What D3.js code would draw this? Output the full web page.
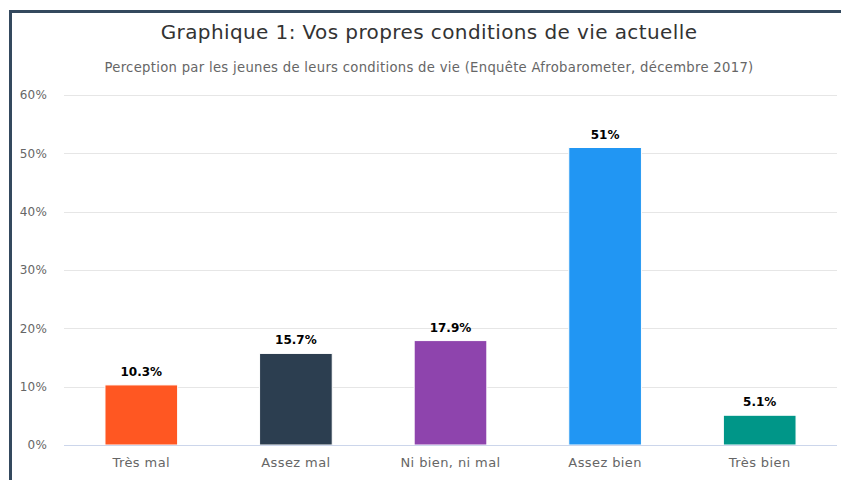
<!DOCTYPE html>
<html>
<head>
<meta charset="utf-8">
<script src="https://cdn.jsdelivr.net/npm/d3@7"></script>
<style>
  body { margin: 0; background: #fff; }
  svg { display: block; font-family: "DejaVu Sans", sans-serif; }
</style>
</head>
<body>
<svg class="chart" width="841" height="480"></svg>
<script>
var categories = ["Très mal", "Assez mal", "Ni bien, ni mal", "Assez bien", "Très bien"];
var values = [10.3, 15.7, 17.9, 51, 5.1];
var colors = ["#ff5722", "#2c3e50", "#8e44ad", "#2196f3", "#009688"];
var yTicks = [0, 10, 20, 30, 40, 50, 60];

var plot = { left: 64, right: 837, top: 95, bottom: 445 };

var svg = d3.select("svg.chart");

// cadre
svg.append("path")
   .attr("d", "M10.5,480 L10.5,11.5 L841,11.5")
   .attr("fill", "none")
   .attr("stroke", "#34495e")
   .attr("stroke-width", 3);

svg.append("text")
   .attr("x", 429).attr("y", 39)
   .attr("text-anchor", "middle")
   .attr("font-size", 20)
   .attr("letter-spacing", 0.4)
   .attr("fill", "#333")
   .text("Graphique 1: Vos propres conditions de vie actuelle");

svg.append("text")
   .attr("x", 429).attr("y", 72)
   .attr("text-anchor", "middle")
   .attr("font-size", 13.2)
   .attr("letter-spacing", 0.3)
   .attr("fill", "#666")
   .text("Perception par les jeunes de leurs conditions de vie (Enquête Afrobarometer, décembre 2017)");

var x = d3.scaleBand()
          .domain(categories)
          .range([plot.left, plot.right])
          .paddingInner(0.53)
          .paddingOuter(0.265);

var y = d3.scaleLinear()
          .domain([0, 60])
          .range([plot.bottom, plot.top]);

// grille
svg.append("g")
   .selectAll("line")
   .data(yTicks.slice(1))
   .enter()
   .append("line")
   .attr("x1", plot.left).attr("x2", plot.right)
   .attr("y1", function (d) { return Math.round(y(d)) + 0.5; })
   .attr("y2", function (d) { return Math.round(y(d)) + 0.5; })
   .attr("stroke", "#e6e6e6");

var yAxis = svg.append("g")
   .attr("transform", "translate(" + (plot.left - 17) + ",0)")
   .call(d3.axisLeft(y).tickValues(yTicks).tickSize(0).tickFormat(function (d) { return d + "%"; }));
yAxis.select(".domain").remove();
yAxis.selectAll("text")
     .attr("font-family", "DejaVu Sans, sans-serif")
     .attr("font-size", 12)
     .attr("letter-spacing", 0.2)
     .attr("fill", "#666")
     .attr("x", 0);

// barres
svg.append("g")
   .selectAll("rect")
   .data(values)
   .enter()
   .append("rect")
   .attr("x", function (d, i) { return x(categories[i]); })
   .attr("y", function (d) { return y(d); })
   .attr("width", x.bandwidth())
   .attr("height", function (d) { return y(0) - y(d); })
   .attr("fill", function (d, i) { return colors[i]; })
   .attr("stroke", "#fff")
   .attr("stroke-width", 1);

// ligne de base
svg.append("line")
   .attr("x1", plot.left).attr("x2", plot.right)
   .attr("y1", plot.bottom + 0.5).attr("y2", plot.bottom + 0.5)
   .attr("stroke", "#ccd6eb");

// étiquettes
svg.append("g")
   .selectAll("text")
   .data(values)
   .enter()
   .append("text")
   .attr("x", function (d, i) { return x(categories[i]) + x.bandwidth() / 2; })
   .attr("y", function (d) { return y(d) - 9; })
   .attr("text-anchor", "middle")
   .attr("font-size", 12)
   .attr("font-weight", "bold")
   .attr("fill", "#000")
   .text(function (d) { return d + "%"; });

var xAxis = svg.append("g")
   .attr("transform", "translate(0," + plot.bottom + ")")
   .call(d3.axisBottom(x).tickSize(0).tickPadding(13));
xAxis.select(".domain").remove();
xAxis.selectAll("text")
     .attr("font-family", "DejaVu Sans, sans-serif")
     .attr("font-size", 13)
     .attr("letter-spacing", 0.4)
     .attr("fill", "#666");
</script>
</body>
</html>
